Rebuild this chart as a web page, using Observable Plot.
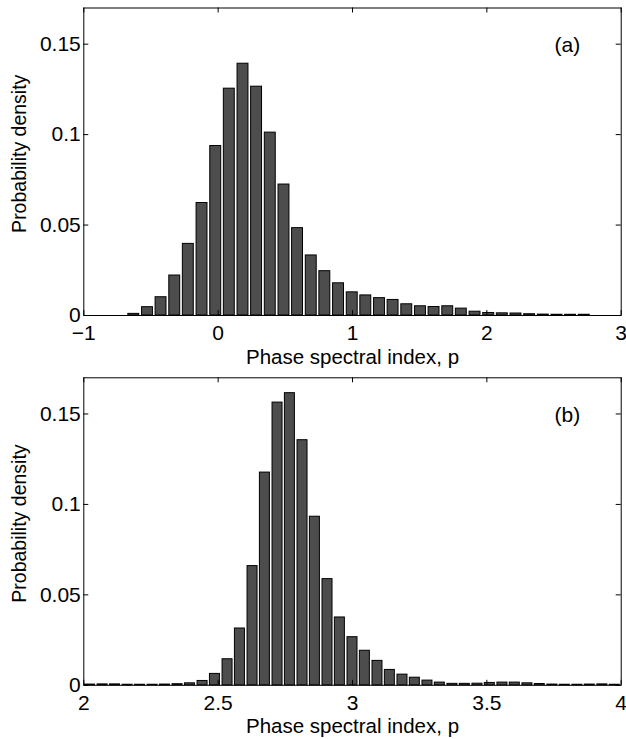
<!DOCTYPE html>
<html>
<head>
<meta charset="utf-8">
<script src="https://cdn.jsdelivr.net/npm/d3@7"></script>
<script src="https://cdn.jsdelivr.net/npm/@observablehq/plot@0.6"></script>
<style>
  html, body { margin: 0; padding: 0; background: white; }
  #chart svg { display: block; }
</style>
</head>
<body>
<div id="chart"></div>
<script>
// ---- Panel (a) data ----
const aCenters = [-0.628, -0.526, -0.425, -0.323, -0.222, -0.120, -0.018, 0.083, 0.185, 0.286,
  0.388, 0.490, 0.591, 0.693, 0.794, 0.896, 0.998, 1.099, 1.201, 1.302,
  1.404, 1.506, 1.607, 1.709, 1.810, 1.912, 2.014, 2.115, 2.217, 2.318,
  2.420, 2.522, 2.623, 2.725];
const aDensity = [0.0009, 0.0046, 0.0101, 0.0221, 0.0396, 0.0622, 0.0937, 0.1254, 0.1392, 0.1265,
  0.1011, 0.0724, 0.0483, 0.0332, 0.0245, 0.0178, 0.0128, 0.0111, 0.0096, 0.0086,
  0.0062, 0.0051, 0.0047, 0.0051, 0.0038, 0.0021, 0.0014, 0.0012, 0.0011, 0.0007,
  0.0005, 0.0004, 0.0004, 0.0004];
const aXTicks = [-1, 0, 1, 2, 3];
const aXTickLabels = ["\u22121", "0", "1", "2", "3"];

// ---- Panel (b) data ----
const bCenters = [2.023, 2.070, 2.116, 2.163, 2.209, 2.256, 2.302, 2.349, 2.395, 2.442,
  2.488, 2.535, 2.581, 2.628, 2.674, 2.721, 2.767, 2.814, 2.860, 2.907,
  2.953, 3.000, 3.046, 3.093, 3.139, 3.186, 3.232, 3.279, 3.325, 3.372,
  3.418, 3.465, 3.511, 3.558, 3.604, 3.651, 3.697, 3.744, 3.790, 3.837,
  3.883, 3.930, 3.976];
const bDensity = [0.0004, 0.0005, 0.0005, 0.0003, 0.0003, 0.0003, 0.0004, 0.0006, 0.0011, 0.0024,
  0.0063, 0.0144, 0.0314, 0.0659, 0.1176, 0.1563, 0.1615, 0.1355, 0.0932, 0.0587,
  0.0375, 0.0266, 0.0191, 0.0135, 0.0085, 0.0059, 0.0042, 0.0026, 0.0015, 0.0008,
  0.0008, 0.0009, 0.0013, 0.0015, 0.0015, 0.0011, 0.0007, 0.0004, 0.0003, 0.0003,
  0.0004, 0.0005, 0.0003];
const bXTicks = [2, 2.5, 3, 3.5, 4];
const bXTickLabels = ["2", "2.5", "3", "3.5", "4"];

// ---- shared ----
const yTicks = [0, 0.05, 0.1, 0.15];
const yTickLabels = ["0", "0.05", "0.1", "0.15"];
const xLabel = "Phase spectral index, p";
const yLabel = "Probability density";

const W = 626, ML = 83.3, MR = 5.3;
const font = "'Liberation Sans', Arial, Helvetica, sans-serif";

function panel({centers, values, binWidth, xDomain, xTicks, xTickLabels, tag, height, marginTop, marginBottom}) {
  const data = centers.map((x, i) => ({x, y: values[i]}));
  const hw = binWidth * 0.8 / 2;
  const plotH = height - marginTop - marginBottom;
  const plotW = W - ML - MR;
  const tl = 5;
  return Plot.plot({
    width: W, height, marginLeft: ML, marginRight: MR, marginTop, marginBottom,
    x: {domain: xDomain, label: null},
    y: {domain: [0, 0.17], label: null},
    style: {fontFamily: font, fontSize: "21px", color: "black", background: "white", overflow: "visible"},
    marks: [
      Plot.rectY(data, {x1: d => d.x - hw, x2: d => d.x + hw, y1: 0, y2: "y", fill: "#4d4d4d", stroke: "black", strokeWidth: 1}),
      Plot.frame({stroke: "black", strokeWidth: 1}),
      Plot.tickX(xTicks, {x: d => d, insetTop: plotH - tl, stroke: "black"}),
      Plot.tickX(xTicks, {x: d => d, insetBottom: plotH - tl, stroke: "black"}),
      Plot.tickY(yTicks, {y: d => d, insetRight: plotW - tl, stroke: "black"}),
      Plot.tickY(yTicks, {y: d => d, insetLeft: plotW - tl, stroke: "black"}),
      Plot.axisX({ticks: xTicks, tickSize: 0, tickPadding: 10, tickFormat: (d) => xTickLabels[xTicks.indexOf(d)], fontSize: 21, label: null}),
      Plot.axisY({ticks: yTicks, tickSize: 0, tickPadding: 3, tickFormat: (d) => yTickLabels[yTicks.indexOf(d)], fontSize: 21, label: null}),
      Plot.text([xLabel], {text: d => d, frameAnchor: "bottom", lineAnchor: "bottom", dy: 48, fontSize: 20.5, fill: "black"}),
      Plot.text([yLabel], {text: d => d, frameAnchor: "left", textAnchor: "middle", lineAnchor: "middle", rotate: -90, dx: -64, dy: -8, fontSize: 19.5, fill: "black"}),
      Plot.text([tag], {text: d => d, frameAnchor: "top-right", textAnchor: "end", lineAnchor: "bottom", dx: -41, dy: 44, fontSize: 21, fill: "black"})
    ]
  });
}

const chart = document.getElementById("chart");
chart.append(panel({centers: aCenters, values: aDensity, binWidth: 0.1016, xDomain: [-1, 3],
  xTicks: aXTicks, xTickLabels: aXTickLabels, tag: "(a)", height: 370, marginTop: 7.5, marginBottom: 55}));
chart.append(panel({centers: bCenters, values: bDensity, binWidth: 0.0465, xDomain: [2, 4],
  xTicks: bXTicks, xTickLabels: bXTickLabels, tag: "(b)", height: 369, marginTop: 7.3, marginBottom: 54.2}));
</script>
</body>
</html>
